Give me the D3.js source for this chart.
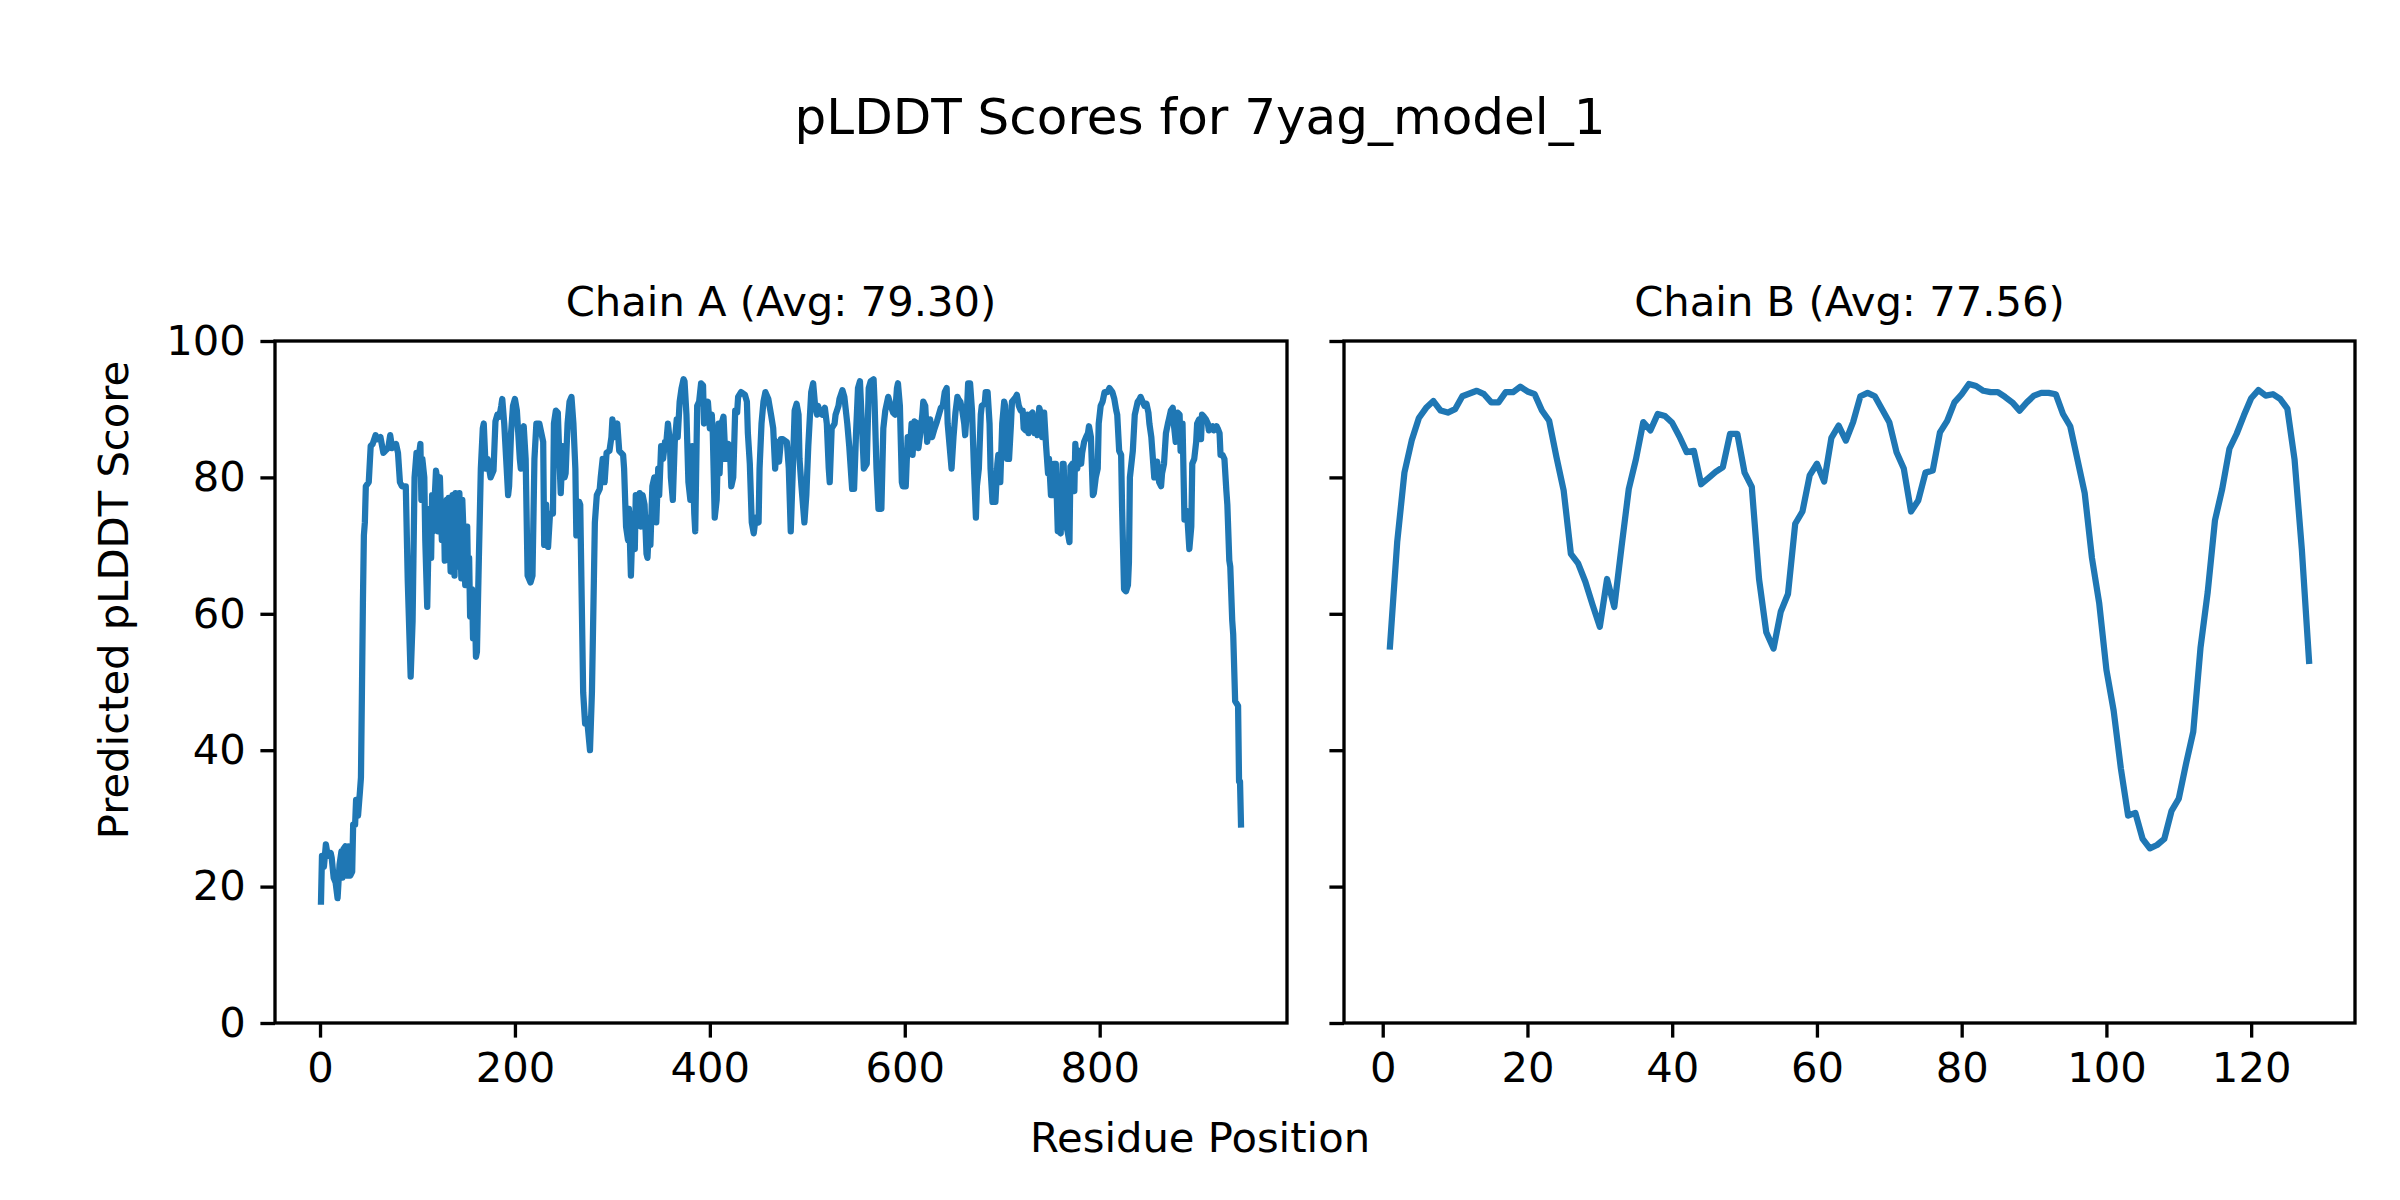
<!DOCTYPE html>
<html>
<head>
<meta charset="utf-8">
<script src="https://cdn.jsdelivr.net/npm/d3@7"></script>
<style>
  body { margin: 0; background: #fff; }
  svg text { font-family: "DejaVu Sans", sans-serif; fill: #000; }
</style>
</head>
<body>
<div id="chart"></div>
<script>
// Chain A: residue positions and pLDDT
const residuesA = [
  1, 2, 4, 6, 8, 11, 12, 14, 16, 18,
  20, 22, 23, 24, 26, 28, 29, 31, 33, 34,
  36, 37, 39, 41, 42, 43, 44, 45, 46, 47,
  50, 52, 54, 57, 59, 62, 65, 67, 70, 72,
  74, 78, 80, 82, 84, 88, 90, 93, 95, 97,
  99, 101, 103, 104, 105, 107, 108, 110, 112, 114,
  115, 116, 119, 120, 121, 123, 125, 127, 128, 130,
  131, 132, 134, 136, 138, 139, 141, 143, 145, 146,
  147, 149, 151, 152, 153, 154, 156, 157, 159, 160,
  161, 163, 165, 167, 168, 170, 172, 175, 178, 180,
  182, 184, 186, 187, 189, 191, 193, 194, 196, 198,
  200, 202, 205, 206, 208, 209, 211, 213, 216, 218,
  220, 222, 225, 229, 230, 232, 234, 236, 239, 240,
  242, 244, 246, 247, 249, 251, 252, 254, 256, 258,
  260, 262, 263, 264, 266, 267, 270, 272, 274, 277,
  279, 281, 282, 284, 287, 288, 290, 292, 294, 297,
  299, 300, 302, 304, 305, 307, 311, 312, 314, 316,
  317, 319, 321, 323, 324, 326, 328, 329, 331, 333,
  335, 336, 338, 339, 341, 343, 345, 347, 348, 350,
  352, 354, 355, 357, 359, 360, 362, 364, 366, 367,
  369, 371, 373, 374, 376, 378, 380, 382, 384, 385,
  387, 389, 391, 393, 394, 397, 398, 400, 402, 403,
  405, 407, 409, 410, 412, 414, 416, 417, 419, 421,
  422, 424, 426, 428, 429, 432, 436, 438, 439, 441,
  443, 445, 447, 450, 451, 453, 455, 457, 460, 463,
  465, 467, 469, 471, 473, 475, 479, 481, 483, 485,
  487, 489, 491, 492, 494, 497, 499, 501, 504, 506,
  508, 510, 511, 513, 515, 518, 520, 522, 523, 525,
  528, 529, 532, 533, 536, 538, 541, 543, 546, 548,
  550, 552, 554, 556, 558, 561, 563, 565, 568, 569,
  571, 573, 576, 578, 580, 583, 585, 588, 590, 592,
  593, 595, 597, 598, 601, 603, 605, 607, 608, 610,
  613, 614, 616, 618, 619, 621, 623, 624, 626, 628,
  630, 633, 637, 639, 641, 643, 644, 646, 648, 650,
  652, 654, 655, 657, 659, 661, 662, 664, 665, 667,
  669, 671, 673, 674, 676, 678, 679, 682, 683, 685,
  687, 688, 690, 693, 695, 696, 698, 700, 702, 703,
  705, 707, 709, 710, 714, 715, 717, 719, 721, 722,
  724, 726, 727, 729, 731, 733, 734, 736, 738, 740,
  741, 743, 745, 747, 748, 750, 752, 753, 755, 757,
  758, 760, 762, 763, 765, 767, 769, 770, 772, 774,
  775, 777, 779, 781, 782, 784, 786, 788, 789, 791,
  793, 794, 796, 798, 799, 801, 803, 805, 808, 810,
  813, 815, 817, 818, 820, 822, 823, 825, 827, 829,
  830, 831, 834, 836, 837, 839, 841, 842, 844, 846,
  848, 850, 851, 853, 854, 856, 858, 859, 861, 863,
  864, 866, 868, 870, 871, 873, 875, 876, 878, 880,
  882, 883, 885, 887, 889, 890, 892, 894, 895, 897,
  899, 900, 902, 904, 905, 907, 909, 911, 912, 914,
  916, 917, 920, 921, 923, 924, 926, 928, 930, 931,
  933, 934, 936, 937, 939, 942, 943, 944, 945
];
const plddtA = [
  17.8, 24.5, 22.9, 26.2, 24.5, 24.9, 24.2, 21.3, 20.6, 18.3,
  23.2, 25.2, 21.3, 25.5, 25.9, 21.6, 25.9, 21.6, 22.2, 29.1,
  29.1, 32.7, 30.4, 34.0, 36.0, 48.5, 61.6, 71.5, 73.4, 78.7,
  79.3, 84.6, 84.9, 86.2, 85.6, 85.9, 83.6, 83.9, 84.3, 86.2,
  84.3, 84.9, 83.6, 79.3, 78.7, 78.7, 64.9, 50.8, 59.0, 80.0,
  83.6, 82.7, 84.9, 76.7, 82.7, 80.0, 70.8, 61.0, 75.4, 68.2,
  77.4, 72.1, 81.0, 80.0, 72.1, 80.0, 70.8, 76.0, 67.8, 76.7,
  68.2, 77.0, 66.2, 77.4, 65.6, 77.7, 66.9, 77.7, 65.2, 76.7,
  72.8, 64.2, 72.8, 64.2, 68.2, 59.6, 63.6, 56.4, 60.3, 53.7,
  54.4, 68.2, 81.3, 87.2, 87.9, 81.3, 82.7, 80.0, 81.0, 88.2,
  89.2, 88.9, 90.5, 91.5, 87.9, 82.7, 77.4, 78.7, 86.5, 90.5,
  91.5, 89.8, 82.7, 81.3, 87.2, 87.5, 82.7, 65.6, 64.6, 65.6,
  82.7, 87.9, 87.9, 85.2, 70.1, 76.0, 69.8, 74.7, 74.7, 87.9,
  89.8, 89.5, 81.3, 77.7, 84.6, 80.0, 80.6, 87.9, 91.1, 91.8,
  87.9, 81.3, 71.5, 71.8, 76.4, 76.0, 48.5, 43.9, 44.6, 40.0,
  48.5, 64.9, 73.4, 77.4, 78.3, 80.0, 82.7, 79.3, 83.6, 83.9,
  85.9, 88.5, 85.9, 87.2, 87.9, 83.9, 83.3, 81.3, 72.8, 70.8,
  75.4, 65.6, 74.7, 69.5, 77.4, 74.7, 77.7, 72.8, 77.4, 76.0,
  68.8, 68.2, 74.1, 70.1, 78.7, 80.0, 73.4, 81.3, 77.4, 84.6,
  82.7, 85.2, 84.6, 87.9, 85.2, 80.0, 76.7, 85.2, 88.5, 85.9,
  91.1, 93.1, 94.4, 94.1, 89.2, 79.3, 76.7, 84.6, 74.7, 72.1,
  90.5, 91.1, 93.8, 93.5, 87.9, 90.5, 91.1, 87.2, 89.2, 86.5,
  74.1, 76.7, 87.9, 80.6, 87.9, 88.9, 82.7, 84.6, 84.9, 82.7,
  78.7, 80.0, 89.8, 89.5, 91.8, 92.5, 92.1, 91.1, 86.5, 82.0,
  73.4, 71.8, 74.1, 73.4, 81.3, 87.9, 91.1, 92.5, 91.5, 89.0,
  87.2, 81.3, 85.2, 82.3, 85.6, 85.6, 85.2, 81.3, 72.1, 80.6,
  89.8, 90.8, 89.2, 82.7, 78.7, 73.4, 77.4, 84.6, 92.5, 93.8,
  90.5, 89.2, 90.5, 89.5, 89.2, 90.2, 87.9, 81.3, 79.3, 87.2,
  87.9, 89.2, 90.5, 91.5, 92.8, 91.8, 87.9, 84.6, 78.3, 78.3,
  86.5, 93.1, 94.1, 87.9, 81.3, 82.0, 93.1, 94.1, 94.4, 91.1,
  81.3, 75.4, 75.4, 87.2, 89.8, 91.8, 90.8, 89.5, 89.2, 93.1,
  93.8, 90.5, 79.3, 78.7, 78.7, 85.9, 83.6, 87.9, 83.3, 88.2,
  87.9, 84.3, 86.5, 89.2, 91.1, 90.5, 85.2, 86.5, 88.5, 85.9,
  86.9, 88.2, 90.2, 90.5, 92.5, 93.1, 87.9, 84.6, 81.3, 85.9,
  89.5, 91.8, 91.5, 91.1, 89.8, 87.9, 86.2, 90.5, 93.8, 93.8,
  89.8, 81.3, 74.1, 78.7, 81.3, 89.2, 90.5, 90.8, 92.5, 92.5,
  87.9, 81.3, 76.4, 76.4, 82.0, 83.3, 79.3, 87.9, 91.1, 90.5,
  82.7, 82.7, 87.9, 91.1, 91.8, 92.1, 90.5, 89.8, 89.8, 87.2,
  86.9, 89.2, 86.5, 89.2, 89.5, 86.5, 88.2, 86.2, 90.2, 89.2,
  85.9, 89.5, 84.6, 80.6, 82.7, 77.4, 77.4, 82.0, 82.0, 72.1,
  72.1, 71.8, 82.0, 82.0, 73.4, 72.1, 70.5, 81.6, 82.0, 78.0,
  84.9, 81.3, 83.9, 82.0, 83.6, 85.2, 85.9, 86.5, 87.5, 85.9,
  77.4, 77.7, 80.0, 81.3, 87.9, 90.5, 91.1, 92.5, 92.5, 93.1,
  92.5, 91.5, 89.8, 89.2, 83.9, 83.3, 75.4, 63.6, 63.3, 64.2,
  67.5, 80.0, 83.9, 89.2, 89.8, 91.1, 91.5, 91.8, 91.1, 90.5,
  90.8, 89.5, 87.9, 85.9, 83.9, 80.0, 80.0, 82.3, 79.3, 78.7,
  80.6, 82.0, 86.5, 87.9, 88.5, 89.8, 90.2, 87.9, 85.2, 89.5,
  89.2, 83.9, 87.9, 73.8, 75.1, 74.1, 69.5, 72.8, 82.0, 82.7,
  85.2, 87.9, 88.5, 85.6, 89.2, 88.9, 88.5, 87.9, 86.9, 87.2,
  87.5, 86.9, 87.5, 87.2, 86.5, 83.3, 83.3, 82.7, 78.0, 76.0,
  67.8, 66.9, 59.0, 57.0, 47.2, 46.5, 35.4, 35.4, 29.1
];

// Chain B: one value per residue, 1..128
const plddtB = [
  55.2, 70.5, 80.7, 85.4, 88.7, 90.2, 91.2, 89.8, 89.5, 90.0,
  91.9, 92.3, 92.7, 92.2, 91.0, 91.0, 92.5, 92.5, 93.3, 92.6,
  92.2, 89.8, 88.3, 83.0, 78.1, 68.8, 67.4, 64.7, 61.3, 58.1,
  65.1, 61.0, 69.8, 78.3, 82.7, 88.1, 86.9, 89.3, 89.0, 88.0,
  86.0, 83.7, 83.9, 79.0, 79.9, 80.8, 81.5, 86.4, 86.4, 80.7,
  78.6, 65.1, 57.3, 54.9, 60.3, 62.9, 73.2, 75.0, 80.3, 82.0,
  79.4, 85.8, 87.6, 85.4, 88.1, 91.9, 92.4, 91.9, 90.0, 88.1,
  83.7, 81.3, 75.0, 76.6, 80.7, 81.0, 86.6, 88.3, 91.0, 92.2,
  93.7, 93.4, 92.7, 92.5, 92.5, 91.8, 91.0, 89.8, 91.0, 92.0,
  92.4, 92.4, 92.2, 89.3, 87.5, 82.6, 77.7, 68.2, 61.6, 51.8,
  45.8, 37.3, 30.4, 30.8, 27.0, 25.6, 26.1, 27.0, 31.1, 32.9,
  38.0, 42.7, 55.0, 63.2, 73.7, 78.3, 84.2, 86.4, 89.1, 91.6,
  92.8, 92.0, 92.2, 91.5, 90.1, 82.6, 69.5, 53.1
];
const residuesB = d3.range(1, plddtB.length + 1);

const xTicksA = [0, 200, 400, 600, 800];
const xTicksB = [0, 20, 40, 60, 80, 100, 120];
const yTicks = [0, 20, 40, 60, 80, 100];

const W = 2400, H = 1200;
const plotTop = 341, plotBottom = 1023;
const tick = 14.6, lw = 3.33, fs = 41.7;

const panels = [
  {title: "Chain A (Avg: 79.30)", residues: residuesA, scores: plddtA, ticks: xTicksA, left: 275, right: 1287},
  {title: "Chain B (Avg: 77.56)", residues: residuesB, scores: plddtB, ticks: xTicksB, left: 1344, right: 2355}
];

const svg = d3.select("#chart").append("svg")
  .attr("width", W)
  .attr("height", H);

svg.append("rect").attr("width", W).attr("height", H).attr("fill", "#fff");

const y = d3.scaleLinear().domain([0, 100]).range([plotBottom, plotTop]);

panels.forEach((p, i) => {
  // matplotlib-style 5% margin on x
  const [lo, hi] = d3.extent(p.residues);
  const pad = (hi - lo) * 0.05;
  const x = d3.scaleLinear().domain([lo - pad, hi + pad]).range([p.left, p.right]);

  const g = svg.append("g");

  g.append("path")
    .datum(p.residues.map((r, j) => [r, p.scores[j]]))
    .attr("fill", "none")
    .attr("stroke", "#1f77b4")
    .attr("stroke-width", 6.25)
    .attr("stroke-linejoin", "round")
    .attr("stroke-linecap", "square")
    .attr("d", d3.line().x(d => x(d[0])).y(d => y(d[1])));

  const xAxis = g.append("g")
    .attr("transform", `translate(0,${plotBottom})`)
    .call(d3.axisBottom(x).tickValues(p.ticks).tickSize(tick).tickPadding(tick).tickSizeOuter(0));

  const yAxis = g.append("g")
    .attr("transform", `translate(${p.left},0)`)
    .call(d3.axisLeft(y).tickValues(yTicks).tickSize(tick).tickPadding(tick).tickSizeOuter(0));

  if (i > 0) yAxis.selectAll("text").remove();

  [xAxis, yAxis].forEach(a => {
    a.attr("font-size", fs).attr("font-family", "DejaVu Sans");
    a.select(".domain").remove();
    a.selectAll("line").attr("stroke", "#000").attr("stroke-width", lw);
    a.selectAll("text").attr("fill", "#000");
  });

  // frame
  g.append("rect")
    .attr("x", p.left)
    .attr("y", plotTop)
    .attr("width", p.right - p.left)
    .attr("height", plotBottom - plotTop)
    .attr("fill", "none")
    .attr("stroke", "#000")
    .attr("stroke-width", lw);

  g.append("text")
    .attr("x", (p.left + p.right) / 2)
    .attr("y", plotTop - 25)
    .attr("text-anchor", "middle")
    .attr("font-size", fs)
    .text(p.title);
});

svg.append("text")
  .attr("x", W / 2)
  .attr("y", 134)
  .attr("text-anchor", "middle")
  .attr("font-size", 50)
  .text("pLDDT Scores for 7yag_model_1");

svg.append("text")
  .attr("x", W / 2)
  .attr("y", 1152)
  .attr("text-anchor", "middle")
  .attr("font-size", fs)
  .text("Residue Position");

svg.append("text")
  .attr("transform", "translate(128,600) rotate(-90)")
  .attr("text-anchor", "middle")
  .attr("font-size", fs)
  .text("Predicted pLDDT Score");
</script>
</body>
</html>
